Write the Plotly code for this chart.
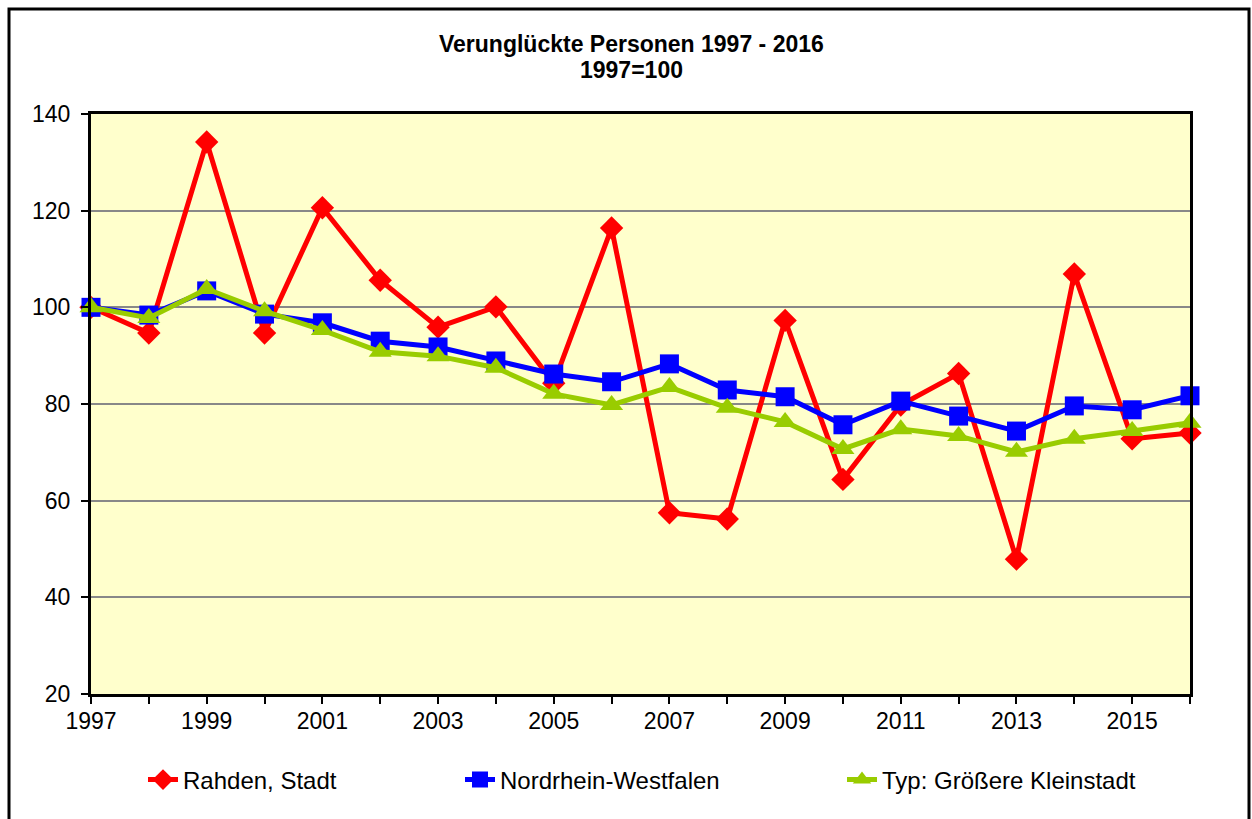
import plotly.graph_objects as go

years = list(range(1997, 2017))
rahden = [100, 94.7, 134.2, 94.7, 120.6, 105.6, 95.9, 100.1, 84.3, 116.4,
          57.5, 56.2, 97.3, 64.4, 79.8, 86.3, 47.9, 106.9, 72.8, 74.0]
nrw = [100, 98.4, 103.4, 98.6, 96.8, 93.0, 91.8, 88.9, 86.2, 84.6,
       88.3, 82.9, 81.5, 75.7, 80.6, 77.5, 74.4, 79.6, 78.8, 81.7]
typ = [100, 97.8, 103.8, 99.2, 95.3, 90.8, 89.9, 87.5, 82.1, 79.8,
       83.5, 79.2, 76.3, 70.7, 74.8, 73.4, 70.1, 72.8, 74.4, 76.1]

names = ["Rahden, Stadt", "Nordrhein-Westfalen", "Typ: Größere Kleinstadt"]
colors = ["#FF0000", "#0000FF", "#99CC00"]
symbols = ["diamond", "square", "triangle-up"]
sizes = [18, 19, 20]
series = [rahden, nrw, typ]
legends = ["legend", "legend2", "legend3"]

W, H = 1252, 819
L, R, T, B = 91, 1190, 114, 694
pw, ph = R - L, B - T

def px(x):
    return (x - L) / pw

def py(y):
    return (B - y) / ph

fig = go.Figure()
for s, n, c, sym, sz, lg in zip(series, names, colors, symbols, sizes, legends):
    fig.add_trace(go.Scatter(
        x=years, y=s, name=n, mode="lines+markers",
        line=dict(color=c, width=5),
        marker=dict(symbol=sym, size=sz, color=c, line=dict(width=0)),
        cliponaxis=False, legend=lg, showlegend=True,
    ))

font = "Liberation Sans, Arial, sans-serif"
leg_common = dict(orientation="h", yanchor="middle", xanchor="left",
                  bgcolor="rgba(0,0,0,0)", font=dict(family=font, size=24, color="#000"),
                  y=py(780))

fig.update_layout(
    width=W, height=H,
    showlegend=True,
    margin=dict(l=L, r=W - R, t=T, b=H - B),
    paper_bgcolor="white", plot_bgcolor="#FFFFCC",
    font=dict(family=font, size=23, color="#000"),
    legend=dict(x=px(143), **leg_common),
    legend2=dict(x=px(460), **leg_common),
    legend3=dict(x=px(842), **leg_common),
    xaxis=dict(range=[1997, 2016], tick0=1997, dtick=2, showgrid=False,
               ticks="outside", ticklen=7, tickwidth=2, tickcolor="#000",
               showline=True, linecolor="#000", linewidth=3, mirror=True,
               zeroline=False, tickfont=dict(size=23), ticklabelstandoff=-3,
               minor=dict(dtick=1, ticks="outside", ticklen=7, tickwidth=2, tickcolor="#000")),
    yaxis=dict(range=[20, 140], dtick=20, showgrid=True, gridcolor="#888888", gridwidth=2,
               ticks="outside", ticklen=7, tickwidth=2, tickcolor="#000",
               showline=True, linecolor="#000", linewidth=3, mirror=True,
               zeroline=False, tickfont=dict(size=23), ticklabelstandoff=6),
    annotations=[
        dict(text="<b>Verunglückte Personen 1997 - 2016</b>", xref="paper", yref="paper",
             x=px(631), y=py(44), xanchor="center", yanchor="middle", showarrow=False,
             font=dict(family=font, size=23, color="#000")),
        dict(text="<b>1997=100</b>", xref="paper", yref="paper",
             x=px(631), y=py(70), xanchor="center", yanchor="middle", showarrow=False,
             font=dict(family=font, size=23, color="#000")),
    ],
    shapes=[dict(type="rect", xref="paper", yref="paper",
                 x0=px(9), x1=px(1249), y0=py(840), y1=py(9),
                 line=dict(color="#000", width=3), fillcolor="rgba(0,0,0,0)", layer="below")],
)

fig.write_html("out.html", config={"displayModeBar": False},
               post_script="document.body.style.margin='0';")
